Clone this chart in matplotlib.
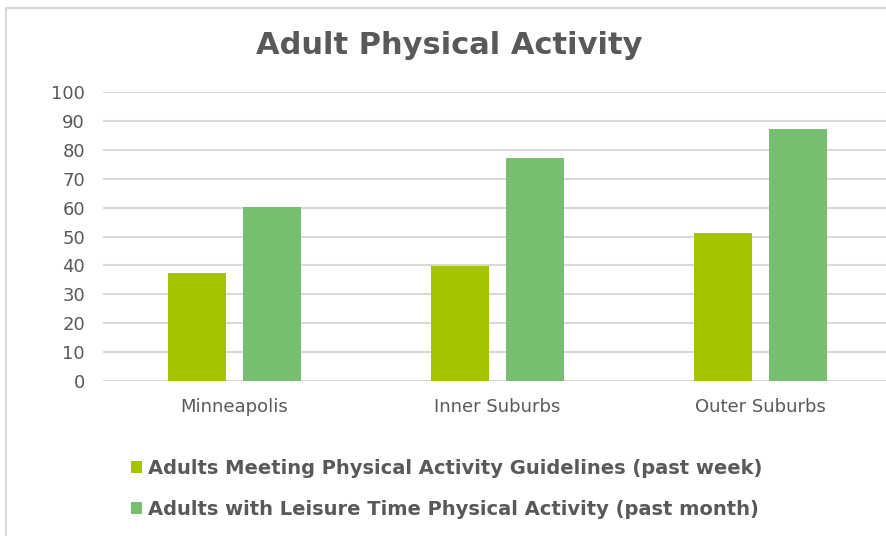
import numpy as np
import matplotlib
matplotlib.use("Agg")
import matplotlib.pyplot as plt
from matplotlib.patches import Rectangle

plt.rcParams["font.family"] = ["DejaVu Sans"]

categories = ["Minneapolis", "Inner Suburbs", "Outer Suburbs"]
meeting_guidelines = [37.5, 39.7, 51.3]
leisure_activity = [60.3, 77.0, 87.3]
series_labels = [
    "Adults Meeting Physical Activity Guidelines (past week)",
    "Adults with Leisure Time Physical Activity (past month)",
]
yticks = list(range(0, 101, 10))

TEXT = "#595959"
C_YELLOW = "#A5C400"
C_GREEN = "#78BE71"
GRID = "#D9D9D9"

W, H = 887, 536
fig = plt.figure(figsize=(W / 100, H / 100), dpi=100)
fig.patch.set_facecolor("white")

# light chart border (cut off on the right and bottom like the source)
fig.patches.append(Rectangle((6 / W, -0.05), 1.1, 1 - 8 / H + 0.05,
                             transform=fig.transFigure, fill=False,
                             edgecolor=GRID, linewidth=1.5))

ax = fig.add_axes([103 / W, 1 - 381 / H, 789 / W, 289 / H])

x = np.arange(len(categories))
bw = 0.224
off = 0.1426
b1 = ax.bar(x - off, meeting_guidelines, bw, color=C_YELLOW, zorder=3,
            label=series_labels[0])
b2 = ax.bar(x + off, leisure_activity, bw, color=C_GREEN, zorder=3,
            label=series_labels[1])

ax.set_xlim(-0.5, len(categories) - 0.5)
ax.set_ylim(0, 100)
ax.set_yticks(yticks)
ax.set_xticks(x)
ax.set_xticklabels(categories)
ax.tick_params(axis="both", length=0, labelsize=13, colors=TEXT)
ax.tick_params(axis="y", pad=13)
ax.tick_params(axis="x", pad=12)
ax.grid(axis="y", color=GRID, linewidth=1.5, zorder=0)
for s in ax.spines.values():
    s.set_visible(False)

fig.text(449 / W, 1 - 46 / H, "Adult Physical Activity", ha="center",
         va="center", fontsize=22, fontweight="bold", color=TEXT)

leg = fig.legend(handles=[b1, b2], loc="upper left",
                 bbox_to_anchor=(121 / W, 1 - 449 / H), frameon=False,
                 fontsize=14, handlelength=0.6, handleheight=0.6,
                 handletextpad=0.3, labelspacing=1.15, borderpad=0)
for t in leg.get_texts():
    t.set_color(TEXT)
    t.set_fontweight("bold")

fig.savefig("out.png", dpi=100, facecolor="white")
